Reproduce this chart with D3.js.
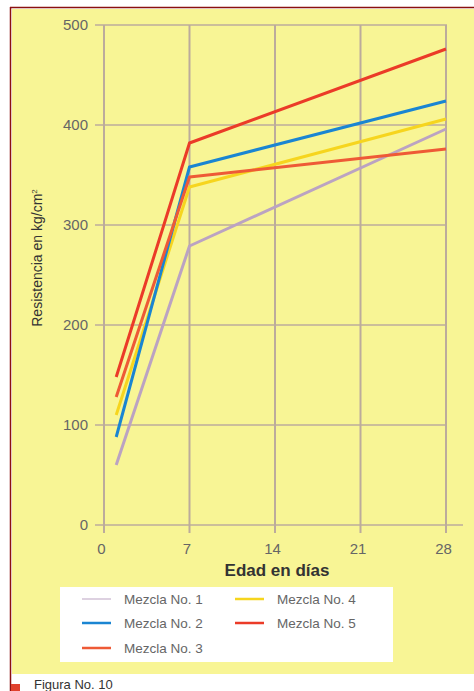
<!DOCTYPE html>
<html><head><meta charset="utf-8">
<script src="https://cdn.jsdelivr.net/npm/d3@7"></script>
<style>html,body{margin:0;padding:0;background:#fff;}svg{display:block;}</style>
</head><body>
<script>
const days = [1, 7, 28];
const seriesNames = ["Mezcla No. 1", "Mezcla No. 2", "Mezcla No. 3", "Mezcla No. 4", "Mezcla No. 5"];
const mezcla1 = [60, 279, 396];
const mezcla2 = [88, 358, 424];
const mezcla3 = [128, 348, 376];
const mezcla4 = [110, 338, 406];
const mezcla5 = [148, 382, 476];
const xTicks = [0, 7, 14, 21, 28];
const yTicks = [0, 100, 200, 300, 400, 500];
const colors = ["#bba3c2", "#1a85d2", "#ee5a36", "#f6d51e", "#eb3b28"];
const seriesValues = [mezcla1, mezcla2, mezcla3, mezcla4, mezcla5];

const W = 474, H = 691;
const svg = d3.select("body").append("svg").attr("width", W).attr("height", H);

// page frame
svg.append("rect").attr("x", 12).attr("y", 9).attr("width", W - 12).attr("height", 665).attr("fill", "#f8f595");
svg.append("line").attr("x1", 10.5).attr("x2", 10.5).attr("y1", 7).attr("y2", H).attr("stroke", "#8b1010").attr("stroke-width", 1.5);
svg.append("line").attr("x1", 10).attr("x2", W).attr("y1", 7.5).attr("y2", 7.5).attr("stroke", "#8b1010").attr("stroke-width", 1.5);
svg.append("rect").attr("x", 11).attr("y", 684).attr("width", 9).attr("height", 7).attr("fill", "#e0402c");
svg.append("text").attr("x", 34).attr("y", 689).attr("font-family", "Liberation Sans, Arial, sans-serif")
  .attr("font-size", 13).attr("fill", "#333").text("Figura No. 10");

const x = d3.scaleLinear().domain([0, 28]).range([104, 446]);
const y = d3.scaleLinear().domain([0, 500]).range([525, 25]);

const grid = svg.append("g");
const gridColor = "#bcab9c";
yTicks.forEach(t => {
  grid.append("line").attr("x1", 95).attr("x2", t === 0 ? 463 : x(28) + 1)
    .attr("y1", y(t)).attr("y2", y(t)).attr("stroke", gridColor).attr("stroke-width", 1.5);
});
xTicks.forEach(t => {
  grid.append("line").attr("x1", x(t)).attr("x2", x(t))
    .attr("y1", y(500)).attr("y2", y(0) + 8).attr("stroke", gridColor).attr("stroke-width", 2);
});

const yAxis = svg.append("g").attr("transform", "translate(90,0)")
  .call(d3.axisLeft(y).tickValues(yTicks).tickSize(0).tickPadding(2));
yAxis.select(".domain").remove();
yAxis.selectAll("text").attr("font-family", "Liberation Sans, Arial, sans-serif").attr("font-size", 15).attr("fill", "#666");

const xAxis = svg.append("g").attr("transform", "translate(0,541)")
  .call(d3.axisBottom(x).tickValues(xTicks).tickSize(0).tickPadding(2));
xAxis.select(".domain").remove();
xAxis.selectAll("text").attr("font-family", "Liberation Sans, Arial, sans-serif").attr("font-size", 15).attr("fill", "#666")
  .attr("dx", -3);

svg.append("text").attr("x", 277).attr("y", 576).attr("text-anchor", "middle")
  .attr("font-family", "Liberation Sans, Arial, sans-serif").attr("font-weight", "bold").attr("font-size", 17).attr("fill", "#333")
  .text("Edad en días");

const yt = svg.append("text").attr("transform", "translate(42,258) rotate(-90)").attr("text-anchor", "middle")
  .attr("font-family", "Liberation Sans Narrow, Arial Narrow, sans-serif").attr("font-size", 14).attr("fill", "#333");
yt.append("tspan").text("Resistencia en kg/cm");
yt.append("tspan").attr("font-size", 8).attr("dy", -5).text("2");

const line = d3.line().x((d, i) => x(days[i])).y(d => y(d));
const order = [0, 3, 1, 2, 4];
order.forEach(i => {
  svg.append("path").datum(seriesValues[i]).attr("d", line).attr("fill", "none")
    .attr("stroke", colors[i]).attr("stroke-width", 3).attr("stroke-linejoin", "round");
});

const lg = svg.append("g");
lg.append("rect").attr("x", 60).attr("y", 587).attr("width", 333).attr("height", 75).attr("fill", "#fff");
const legPos = [[82, 599], [82, 623], [82, 648], [235, 599], [235, 623]];
seriesNames.forEach((n, i) => {
  const [lx, ly] = legPos[i];
  lg.append("line").attr("x1", lx).attr("x2", lx + 29).attr("y1", ly).attr("y2", ly)
    .attr("stroke", colors[i]).attr("stroke-width", i === 0 ? 1 : 2.5);
  lg.append("text").attr("x", lx + 42).attr("y", ly + 5)
    .attr("font-family", "Liberation Sans, Arial, sans-serif").attr("font-size", 13.5).attr("fill", "#666").text(n);
});
</script>
</body></html>
